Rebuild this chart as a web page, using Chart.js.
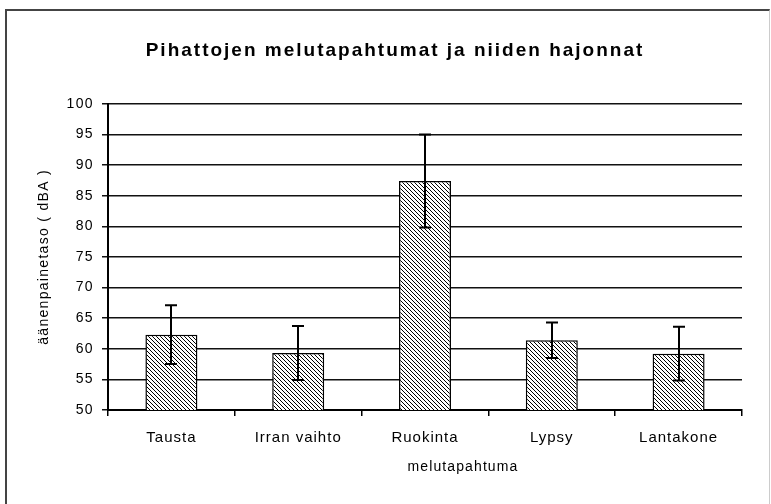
<!DOCTYPE html>
<html>
<head>
<meta charset="utf-8">
<script src="https://cdn.jsdelivr.net/npm/chart.js@4.4.1/dist/chart.umd.min.js"></script>
<style>
  html, body { margin: 0; padding: 0; background: #fff; }
  #wrap { position: relative; width: 771px; height: 504px; overflow: hidden; }
  #frame { position: absolute; left: 5px; top: 9px; width: 762px; height: 520px;
           border-top: 2px solid #444; border-left: 2px solid #444; border-right: 1px solid #ccc; }
  canvas { position: absolute; left: 0; top: 0; }
</style>
</head>
<body>
<div id="wrap">
  <div id="frame"></div>
  <canvas id="c" width="771" height="504"></canvas>
</div>
<script>
// ---- data ----
const categories = ['Tausta', 'Irran vaihto', 'Ruokinta', 'Lypsy', 'Lantakone'];
const meanLevels = [62.3, 59.3, 87.4, 61.4, 59.2];
const deviations = [4.8, 4.4, 7.6, 2.9, 4.4];
const yTicks = [50, 55, 60, 65, 70, 75, 80, 85, 90, 95, 100];
const titleText = 'Pihattojen melutapahtumat ja niiden hajonnat';
const xTitle = 'melutapahtuma';
const yTitle = 'äänenpainetaso ( dBA )';

// hatch pattern (diagonal "\" lines)
function makeHatch() {
  const p = document.createElement('canvas');
  p.width = 4; p.height = 4;
  const g = p.getContext('2d');
  g.fillStyle = '#fff';
  g.fillRect(0, 0, 4, 4);
  g.fillStyle = '#000';
  for (let i = 0; i < 4; i++) g.fillRect(i, i, 1, 1);
  return g.createPattern(p, 'repeat');
}

const errorBars = {
  id: 'errorBars',
  afterDatasetsDraw(chart) {
    const ctx = chart.ctx;
    const ys = chart.scales.y;
    const meta = chart.getDatasetMeta(0);
    ctx.save();
    ctx.strokeStyle = '#000';
    ctx.lineWidth = 2;
    meta.data.forEach((bar, i) => {
      const x = Math.round(bar.x);
      const top = ys.getPixelForValue(meanLevels[i] + deviations[i]);
      const bot = ys.getPixelForValue(meanLevels[i] - deviations[i]);
      ctx.beginPath();
      ctx.moveTo(x, top); ctx.lineTo(x, bot);
      ctx.moveTo(x - 6, top); ctx.lineTo(x + 6, top);
      ctx.moveTo(x - 6, bot); ctx.lineTo(x + 6, bot);
      ctx.stroke();
    });
    ctx.restore();
  }
};

// letter spacing per text element (the reference uses widely tracked text)
function wrap(obj, name, spacing, dx) {
  if (!obj || obj['_w_' + name]) return;
  const orig = obj[name];
  obj[name] = function (...args) {
    const ctx = this.ctx;
    ctx.save();
    ctx.letterSpacing = spacing;
    if (dx) ctx.translate(dx, 0);
    const r = orig.apply(this, args);
    ctx.restore();
    return r;
  };
  obj['_w_' + name] = true;
}
const textSpacing = {
  id: 'textSpacing',
  beforeDraw(chart) {
    wrap(chart.titleBlock, 'draw', '2px');
    wrap(chart.scales.x, 'drawLabels', '1px');
    wrap(chart.scales.x, 'drawTitle', '1.1px', 38);
    wrap(chart.scales.y, 'drawLabels', '1.4px');
    wrap(chart.scales.y, 'drawTitle', '1.3px');
  }
};

const FONT = "'Liberation Sans', Arial, sans-serif";

new Chart(document.getElementById('c'), {
  type: 'bar',
  data: {
    labels: categories,
    datasets: [{
      data: meanLevels,
      backgroundColor: makeHatch(),
      borderColor: '#000',
      borderWidth: 1.5,
      barPercentage: 0.41,
      categoryPercentage: 1.0
    }]
  },
  plugins: [errorBars, textSpacing],
  options: {
    responsive: false,
    animation: false,
    devicePixelRatio: 1,
    layout: { padding: { top: 39, left: 48, right: 29, bottom: 0 } },
    plugins: {
      legend: { display: false },
      tooltip: { enabled: false },
      title: {
        display: true,
        text: titleText,
        color: '#000',
        font: { family: FONT, size: 19, weight: 'bold' },
        padding: { top: 0, bottom: 42 }
      }
    },
    scales: {
      x: {
        afterFit(s) { s.height = 94; },
        grid: { display: true, drawOnChartArea: false, drawTicks: true, tickLength: 6,
                offset: true, color: '#000', lineWidth: 1.5 },
        border: { display: true, color: '#000', width: 2 },
        ticks: { color: '#000', font: { family: FONT, size: 15 }, padding: 13, maxRotation: 0, autoSkip: false },
        title: { display: true, text: xTitle, color: '#000',
                 font: { family: FONT, size: 14 }, padding: { top: 0, bottom: 28 } }
      },
      y: {
        min: 50, max: 100,
        afterFit(s) { s.width = 60; },
        afterBuildTicks(s) { s.ticks = yTicks.map(v => ({ value: v })); },
        grid: { color: '#111', lineWidth: 1.5, drawTicks: true, tickLength: 6 },
        border: { display: true, color: '#000', width: 2 },
        ticks: { color: '#000', font: { family: FONT, size: 14 }, padding: 8 },
        title: { display: true, text: yTitle, color: '#000',
                 font: { family: FONT, size: 14 }, padding: { top: -12 } }
      }
    }
  }
});
</script>
</body>
</html>
